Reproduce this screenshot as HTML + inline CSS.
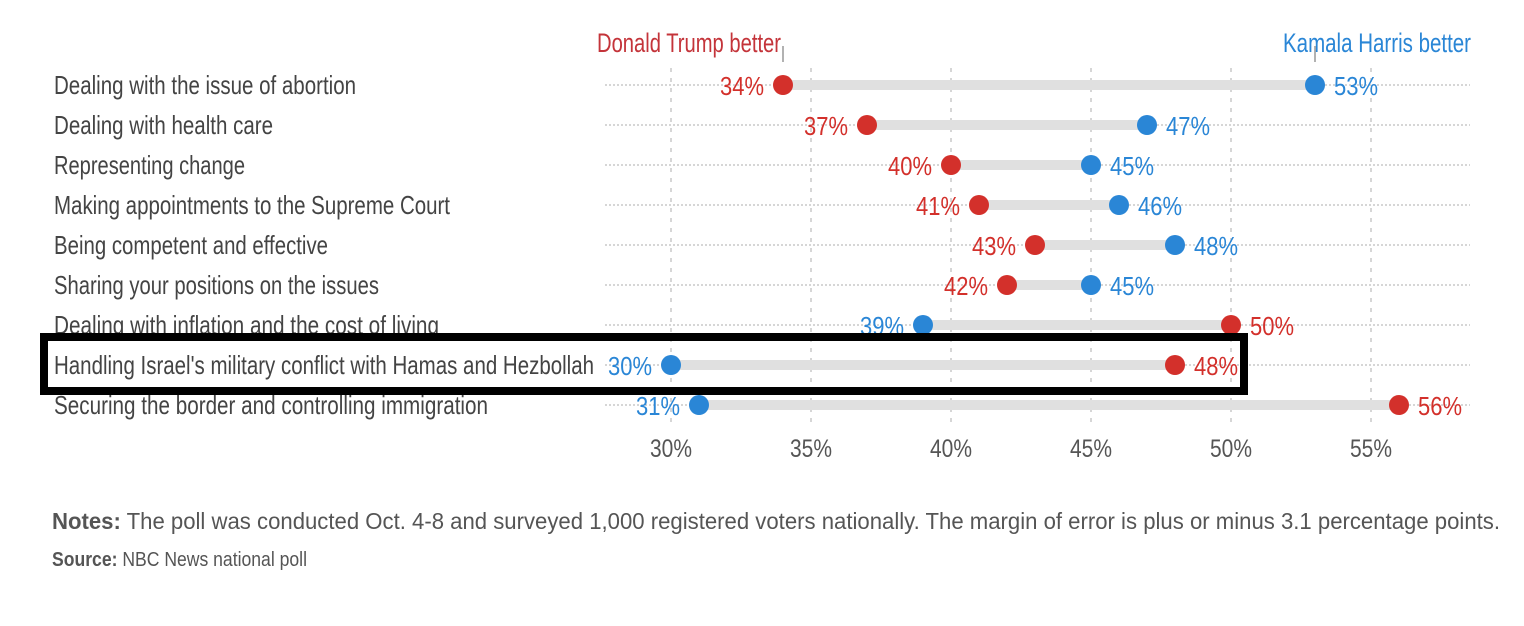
<!DOCTYPE html>
<html><head><meta charset="utf-8"><style>
html,body{margin:0;padding:0;background:#fff;width:1524px;height:626px;overflow:hidden}
svg{display:block;font-family:"Liberation Sans Narrow","Liberation Sans",sans-serif}
</style></head><body>
<svg id="chart" width="1524" height="626" viewBox="0 0 1524 626" xmlns="http://www.w3.org/2000/svg"></svg>
<script>
const categories=["Dealing with the issue of abortion","Dealing with health care","Representing change","Making appointments to the Supreme Court","Being competent and effective","Sharing your positions on the issues","Dealing with inflation and the cost of living","Handling Israel's military conflict with Hamas and Hezbollah","Securing the border and controlling immigration"];
const trumpValues=[34,37,40,41,43,42,50,48,56];
const harrisValues=[53,47,45,46,48,45,39,30,31];
const tickValues=[30,35,40,45,50,55];
const tickLabels=["30%","35%","40%","45%","50%","55%"];
const labelWidths=[302,219,191,396,274,325,385,540,434];

const RED="#d3302b",BLUE="#2a86d6",NS="http://www.w3.org/2000/svg";
const svg=document.getElementById('chart');
function x(v){return 671+(v-30)*28;}
function y(i){return 85+i*40;}
function mk(tag,attrs,parent){const e=document.createElementNS(NS,tag);for(const k in attrs)e.setAttribute(k,attrs[k]);(parent||svg).appendChild(e);return e;}
function txt(s,attrs){const e=mk('text',attrs);e.textContent=s;return e;}

// vertical gridlines + ticks
tickValues.forEach((t,k)=>{
  const g=mk('line',{x1:x(t),x2:x(t),y1:68,y2:422,stroke:'#c8c8c8','stroke-width':1.5,'stroke-dasharray':'4,6'});
  
  
  const l=txt(tickLabels[k],{x:x(t),y:457,'text-anchor':'middle','font-size':25,fill:'#555',textLength:42,lengthAdjust:'spacingAndGlyphs'});
  
  
});

categories.forEach((c,i)=>{
  const yy=y(i);
  const row=mk('line',{x1:605,x2:1470,y1:yy,y2:yy,stroke:'#bdbdbd','stroke-width':1.2,'stroke-dasharray':'2,2'});
  
  
  const lab=txt(c,{x:54,y:yy+9,'font-size':26,fill:'#444',textLength:labelWidths[i],lengthAdjust:'spacingAndGlyphs'});
  
  
  const t=trumpValues[i],h=harrisValues[i];
  const bar=mk('line',{x1:x(Math.min(t,h)),x2:x(Math.max(t,h)),y1:yy,y2:yy,stroke:'#e0e0e0','stroke-width':10});
  
  
  [[t,RED,'trump'],[h,BLUE,'harris']].forEach(([v,col,n])=>{
    const other=n==='trump'?h:t;
    const d=mk('circle',{cx:x(v),cy:yy,r:10,fill:col});
    
    
    const left=v<other;
    const vl=txt(v+'%',{x:left?x(v)-19:x(v)+19,y:yy+10,'text-anchor':left?'end':'start','font-size':26,fill:col,textLength:44,lengthAdjust:'spacingAndGlyphs'});
    
    
  });
});

// headers
const h1=txt("Donald Trump better",{x:597,y:52,'font-size':27,fill:'#c4343a',textLength:184,lengthAdjust:'spacingAndGlyphs'});


const h2=txt("Kamala Harris better",{x:1283,y:52,'font-size':27,fill:'#2a86d6',textLength:188,lengthAdjust:'spacingAndGlyphs'});


mk('line',{x1:783,x2:783,y1:46,y2:62,stroke:'#999','stroke-width':1.5});
mk('line',{x1:1315,x2:1315,y1:46,y2:62,stroke:'#999','stroke-width':1.5});

// highlight box
const box=mk('rect',{x:44,y:337,width:1200,height:54,fill:'none',stroke:'#000','stroke-width':8});



// notes
const n=mk('text',{x:52,y:529,'font-size':23,fill:'#555',textLength:1448,lengthAdjust:'spacingAndGlyphs'});


n.innerHTML='<tspan font-weight="bold">Notes:</tspan> The poll was conducted Oct. 4-8 and surveyed 1,000 registered voters nationally. The margin of error is plus or minus 3.1 percentage points.';
const s=mk('text',{x:52,y:566,'font-size':20,fill:'#555',textLength:255,lengthAdjust:'spacingAndGlyphs'});


s.innerHTML='<tspan font-weight="bold">Source:</tspan> NBC News national poll';
</script>
</body></html>
